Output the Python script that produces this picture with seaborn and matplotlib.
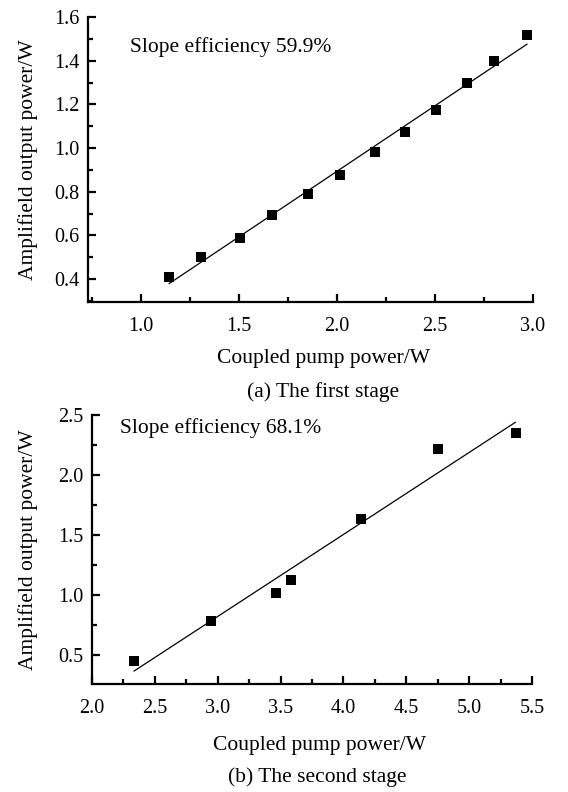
import numpy as np
import pandas as pd
import seaborn as sns
import matplotlib
matplotlib.use("Agg")
import matplotlib.pyplot as plt
from matplotlib.ticker import MultipleLocator

# ---- data ----
pump_a = [1.143, 1.305, 1.507, 1.670, 1.854, 2.014, 2.192, 2.349, 2.504, 2.663, 2.803, 2.970]
out_a = [0.410, 0.502, 0.589, 0.692, 0.791, 0.877, 0.983, 1.073, 1.172, 1.299, 1.400, 1.518]

pump_b = [2.336, 2.948, 3.464, 3.582, 4.143, 4.749, 5.367]
out_b = [0.450, 0.783, 1.017, 1.123, 1.633, 2.220, 2.347]

text_a = "Slope efficiency 59.9%"
text_b = "Slope efficiency 68.1%"
xlabel = "Coupled pump power/W"
ylabel = "Amplifield output power/W"
cap_a = "(a) The first stage"
cap_b = "(b) The second stage"

sns.set_theme(style="ticks")
plt.rcParams['font.family'] = ['Liberation Serif', 'DejaVu Serif']
plt.rcParams['mathtext.fontset'] = 'stix'

W, H = 568, 792
fig = plt.figure(figsize=(W / 100, H / 100), dpi=100)

def px_axes(l, t, r, b):
    return fig.add_axes([l / W, 1 - b / H, (r - l) / W, (b - t) / H])

ax1 = px_axes(88, 17, 533, 302)
ax2 = px_axes(91.7, 415, 532.3, 684)

df_a = pd.DataFrame({"x": pump_a, "y": out_a})
df_b = pd.DataFrame({"x": pump_b, "y": out_b})

for ax, df in ((ax1, df_a), (ax2, df_b)):
    sns.regplot(data=df, x="x", y="y", ax=ax, ci=None, truncate=True,
                marker="s",
                scatter_kws=dict(s=52, color="black", alpha=1.0, edgecolors="none", zorder=3),
                line_kws=dict(color="black", lw=0.9, zorder=2))

FS = 15.5
TS = 14.5

# Axis styling
for ax in (ax1, ax2):
    sns.despine(ax=ax)
    for sp in ("left", "bottom"):
        ax.spines[sp].set_linewidth(1.6)
        ax.spines[sp].set_color("black")
    ax.tick_params(which="major", direction="in", length=6, width=1.6,
                   color="black", labelsize=TS, labelcolor="black")
    ax.tick_params(which="minor", direction="in", length=3.5, width=1.6, color="black")
    ax.tick_params(axis="x", which="major", pad=10.5)
    ax.tick_params(axis="y", which="major", pad=6)
    ax.set_facecolor("white")

ax1.set_xlim(0.73, 3.0)
ax1.set_ylim(0.295, 1.6)
ax1.xaxis.set_minor_locator(MultipleLocator(0.25))
ax1.yaxis.set_minor_locator(MultipleLocator(0.1))
ax1.set_xticks([1.0, 1.5, 2.0, 2.5, 3.0])
ax1.set_xticklabels(["1.0", "1.5", "2.0", "2.5", "3.0"])
ax1.set_yticks([0.4, 0.6, 0.8, 1.0, 1.2, 1.4, 1.6])
ax1.set_yticklabels(["0.4", "0.6", "0.8", "1.0", "1.2", "1.4", "1.6"])

ax2.set_xlim(2.0, 5.5)
ax2.set_ylim(0.26, 2.5)
ax2.xaxis.set_minor_locator(MultipleLocator(0.25))
ax2.yaxis.set_minor_locator(MultipleLocator(0.25))
ax2.set_xticks([2.0, 2.5, 3.0, 3.5, 4.0, 4.5, 5.0, 5.5])
ax2.set_xticklabels(["2.0", "2.5", "3.0", "3.5", "4.0", "4.5", "5.0", "5.5"])
ax2.set_yticks([0.5, 1.0, 1.5, 2.0, 2.5])
ax2.set_yticklabels(["0.5", "1.0", "1.5", "2.0", "2.5"])

for ax in (ax1, ax2):
    ax.set_xlabel(xlabel, fontsize=FS, color="black")
    ax.set_ylabel(ylabel, fontsize=FS, color="black")

ax1.xaxis.set_label_coords(0.530, -0.165)
ax1.yaxis.set_label_coords(-0.112, 0.5)
ax2.xaxis.set_label_coords(0.518, -0.195)
ax2.yaxis.set_label_coords(-0.122, 0.5)

ax1.text((130 - 88) / 445, 1 - (47 - 17) / 285, text_a, transform=ax1.transAxes,
         fontsize=FS, ha="left", va="center", color="black")
ax2.text((120 - 91.7) / 440.6, 1 - (428 - 415) / 269, text_b, transform=ax2.transAxes,
         fontsize=FS, ha="left", va="center", color="black")

fig.text(323 / W, 1 - 392 / H, cap_a, ha="center", va="center", fontsize=FS, color="black")
fig.text(317 / W, 1 - 777 / H, cap_b, ha="center", va="center", fontsize=FS, color="black")

fig.savefig("out.png", dpi=100, facecolor="white")
